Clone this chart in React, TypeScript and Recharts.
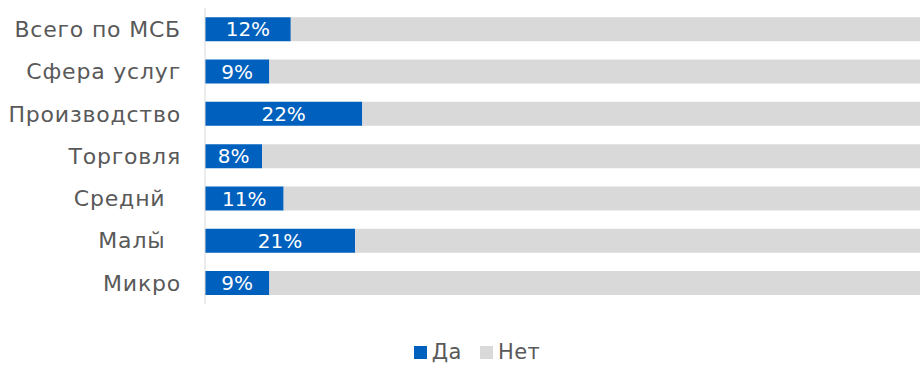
import { Bar, BarChart, LabelList, Legend, XAxis, YAxis } from 'recharts';

const categories = ['Всего по МСБ', 'Сфера услуг', 'Производство', 'Торговля', 'Среднй\u00A0\u00A0', 'Малы\u0306\u00A0\u00A0', 'Микро'];
const yesValues = [12, 9, 22, 8, 11, 21, 9];
const noValues = [88, 91, 78, 92, 89, 79, 91];

const data = categories.map((name, i) => ({ name, yes: yesValues[i], no: noValues[i] }));

const FONT = '"DejaVu Sans", sans-serif';
const TEXT = '#595959';

function LegendContent(props: any) {
  const items = props.payload || [];
  return (
    <div
      style={{
        height: 61,
        display: 'flex',
        justifyContent: 'center',
        alignItems: 'flex-end',
        paddingLeft: 52,
        paddingBottom: 1,
        boxSizing: 'border-box',
        fontFamily: FONT,
        fontSize: 21,
        letterSpacing: 0.5,
        color: TEXT,
      }}
    >
      {items.map((it: any) => (
        <div key={it.value} style={{ display: 'flex', alignItems: 'center', marginRight: 18 }}>
          <span style={{ width: 13, height: 13, background: it.color, display: 'inline-block', marginRight: 5 }} />
          <span>{it.value}</span>
        </div>
      ))}
    </div>
  );
}

export default function App() {
  return (
    <div style={{ position: 'absolute', left: 0, top: 0, background: '#fff' }}>
      <BarChart
        width={920}
        height={365}
        data={data}
        layout="vertical"
        margin={{ top: 8, right: 0, bottom: 0, left: 0 }}
        barCategoryGap="22%"
      >
        <XAxis type="number" domain={[0, 100]} hide />
        <YAxis
          type="category"
          dataKey="name"
          width={205}
          axisLine={{ stroke: '#D9D9D9' }}
          tickLine={false}
          tickSize={0}
          tickMargin={24}
          tick={{ fill: TEXT, fontSize: 22, fontFamily: FONT, letterSpacing: 0.8 }}
        />
        <Legend verticalAlign="bottom" content={<LegendContent />} />
        <Bar dataKey="yes" name="Да" stackId="a" fill="#0060BD" isAnimationActive={false}>
          <LabelList
            dataKey="yes"
            position="center"
            formatter={(v: any) => `${v}%`}
            fill="#fff"
            style={{ fontSize: 20, fontFamily: FONT }}
          />
        </Bar>
        <Bar dataKey="no" name="Нет" stackId="a" fill="#D9D9D9" isAnimationActive={false} />
      </BarChart>
    </div>
  );
}
